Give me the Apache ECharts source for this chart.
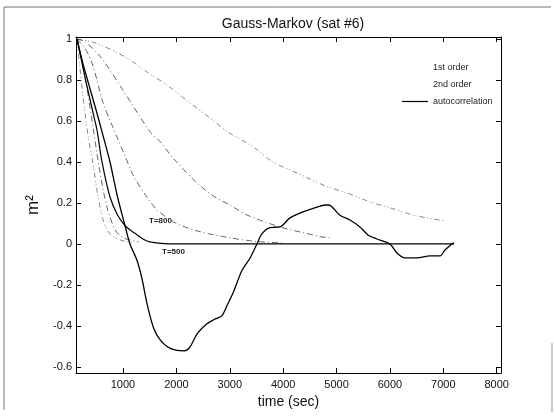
<!DOCTYPE html>
<html><head><meta charset="utf-8">
<script src="https://cdn.jsdelivr.net/npm/echarts@6/dist/echarts.min.js"></script>
<style>html,body{margin:0;padding:0;background:#fff}#c{width:554px;height:417px}</style>
</head><body><div id="c"></div>
<script>
// ---- data (time in sec, value in m^2) ----
const xTicks = [1000, 2000, 3000, 4000, 5000, 6000, 7000, 8000];
const yTicks = [-0.6, -0.4, -0.2, 0, 0.2, 0.4, 0.6, 0.8, 1];

const autocorrelation = [[140,1.0],[250,0.88],[380,0.76],[500,0.65],[625,0.53],[757,0.4],[888,0.24],[1037,0.09],[1131,0],[1262,-0.08],[1356,-0.17],[1449,-0.29],[1573,-0.41],[1700,-0.47],[1850,-0.505],[2011,-0.52],[2150,-0.522],[2250,-0.505],[2386,-0.44],[2573,-0.39],[2700,-0.37],[2854,-0.35],[2950,-0.3],[3060,-0.24],[3228,-0.13],[3378,-0.07],[3509,0],[3603,0.05],[3753,0.08],[3940,0.083],[4127,0.127],[4371,0.156],[4633,0.18],[4783,0.19],[4850,0.19],[5064,0.14],[5251,0.117],[5438,0.083],[5588,0.044],[5757,0.024],[6000,0],[6131,-0.044],[6281,-0.068],[6506,-0.068],[6750,-0.058],[6938,-0.058],[7031,-0.03],[7160,0],[7200,0.005]];
const fitSolid = [[140,1.0],[300,0.8],[457,0.62],[513,0.556],[607,0.4],[757,0.229],[900,0.14],[1037,0.09],[1150,0.065],[1262,0.045],[1400,0.02],[1500,0.01],[1700,0.003],[2000,0],[7200,0]];
const gm1 = [[140,1],[500,0.98],[1075,0.907],[1500,0.83],[1824,0.776],[2255,0.688],[2600,0.62],[2966,0.546],[3322,0.493],[3509,0.46],[3809,0.40],[4258,0.346],[4502,0.317],[4820,0.28],[5195,0.249],[5625,0.205],[6000,0.176],[6431,0.141],[6693,0.127],[7030,0.112]];
const gm2 = [[140,1],[300,0.985],[600,0.906],[1000,0.75],[1500,0.55],[1693,0.5],[1936,0.42],[2386,0.297],[2723,0.229],[3004,0.19],[3322,0.141],[3940,0.083],[4558,0.044],[4727,0.034],[4900,0.03]];
const gm3 = [[140,1],[300,0.95],[437,0.87],[625,0.69],[794,0.58],[906,0.51],[1037,0.43],[1200,0.33],[1449,0.229],[1637,0.166],[2000,0.1],[2442,0.06],[3000,0.03],[3500,0.012],[4000,0.005]];
const gm4 = [[140,1],[250,0.72],[350,0.52],[437,0.395],[520,0.25],[625,0.12],[750,0.05],[944,0.02],[1200,0.005]];
const gm5 = [[140,1],[300,0.8],[450,0.55],[569,0.35],[700,0.18],[850,0.07],[1000,0.03],[1300,0.01]];

const chart = echarts.init(document.getElementById('c'), null, {renderer:'canvas'});
const FONT = 'Liberation Sans, Arial, sans-serif';
const dashDot = {color:'#555', width:0.9, type:[6,3,1,3]};
const dashDotDot = {color:'#777', width:0.9, type:[5,3,1,2,1,3]};
function ds(name, data, ls){ return {name, type:'line', data, symbol:'none', smooth:0.3, lineStyle:ls, silent:true, z:2}; }
const lineIcon = 'path://M0,0 L26,0 L26,1.2 L0,1.2 Z';

chart.setOption({
  animation:false,
  backgroundColor:'#fff',
  title:{text:'Gauss-Markov (sat #6)', left:288, top:12, textAlign:'center',
         textStyle:{fontFamily:FONT, fontSize:14, fontWeight:'normal', color:'#111'}},
  grid:{left:76, top:37, right:53, bottom:44},
  legend:{orient:'vertical', left:397, top:58, itemWidth:26, itemHeight:1.3, itemGap:8, icon:lineIcon,
    textStyle:{fontFamily:FONT, fontSize:9, color:'#222'},
    data:[{name:'1st order', itemStyle:{color:'rgba(0,0,0,0)'}}, {name:'2nd order', itemStyle:{color:'rgba(0,0,0,0)'}},
          {name:'autocorrelation', itemStyle:{color:'#000'}}]},
  xAxis:[{type:'value', min:120, max:8080, name:'time (sec)', nameLocation:'middle', nameGap:19,
          nameTextStyle:{fontFamily:FONT, fontSize:14, color:'#111'},
          axisLine:{onZero:false, lineStyle:{color:'#000', width:1}},
          axisTick:{inside:true, length:5, customValues:xTicks, lineStyle:{color:'#000'}},
          axisLabel:{customValues:xTicks, formatter:v=>String(v), fontFamily:FONT, fontSize:11, color:'#111', margin:6},
          splitLine:{show:false}},
         {type:'value', position:'top', min:120, max:8080,
          axisLine:{onZero:false, lineStyle:{color:'#000', width:1}},
          axisTick:{inside:true, length:5, customValues:xTicks, lineStyle:{color:'#000'}},
          axisLabel:{show:false}, splitLine:{show:false}}],
  yAxis:[{type:'value', min:-0.63, max:1.01, name:'m²', nameLocation:'middle', nameGap:20, nameRotate:90,
          nameTextStyle:{fontFamily:FONT, fontSize:17, color:'#111'},
          axisLine:{onZero:false, lineStyle:{color:'#000', width:1}},
          axisTick:{inside:true, length:5, customValues:yTicks, lineStyle:{color:'#000'}},
          axisLabel:{customValues:yTicks, formatter:v=>String(+v.toFixed(2)), fontFamily:FONT, fontSize:11, color:'#111', margin:4},
          splitLine:{show:false}},
         {type:'value', position:'right', min:-0.63, max:1.01,
          axisLine:{onZero:false, lineStyle:{color:'#000', width:1}},
          axisTick:{inside:true, length:5, customValues:yTicks, lineStyle:{color:'#000'}},
          axisLabel:{show:false}, splitLine:{show:false}}],
  series:[
    ds('1st order', gm1, dashDotDot),
    ds('2nd order', gm2, dashDot),
    ds('2nd order', gm3, dashDot),
    ds('1st order', gm4, dashDotDot),
    ds('1st order', gm5, dashDot),
    {name:'autocorrelation', type:'line', data:fitSolid, symbol:'none', smooth:0.3, lineStyle:{color:'#000', width:1.2}, z:3, silent:true},
    {name:'autocorrelation', type:'line', data:autocorrelation, symbol:'none', smooth:0.3, lineStyle:{color:'#000', width:1.3}, z:4, silent:true}
  ],
  graphic:[
    {type:'polyline', shape:{points:[[4,410],[4,7],[551,7]]}, style:{stroke:'#777', lineWidth:1, fill:null}},
    {type:'line', shape:{x1:552, y1:343, x2:552, y2:412}, style:{stroke:'#999', lineWidth:1}},
    {type:'text', left:149, top:217, style:{text:'T=800', font:'bold 8px '+FONT, fill:'#222'}},
    {type:'text', left:162, top:248, style:{text:'T=500', font:'bold 8px '+FONT, fill:'#222'}}
  ]
});
</script></body></html>
